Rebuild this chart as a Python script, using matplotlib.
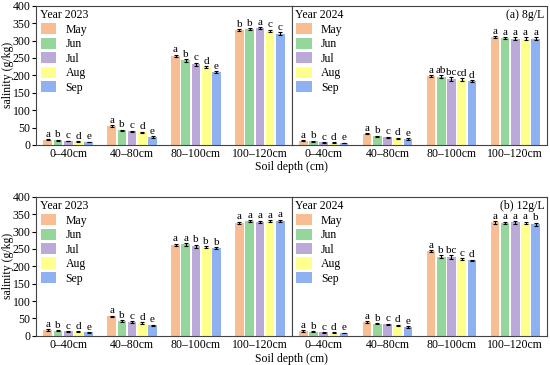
import matplotlib.pyplot as plt
import numpy as np

plt.rcParams['font.family'] = ['Liberation Serif', 'DejaVu Serif']

depths = ['0–40cm', '40–80cm', '80–100cm', '100–120cm']
months = ['May', 'Jun', 'Jul', 'Aug', 'Sep']
colors = ['#F9BD93', '#95D69B', '#BBAAD8', '#FFFF8C', '#8FB1F2']

# 8 g/L, rows = months, cols = depths
a_2023 = [[15, 54, 257, 330],
          [13, 42, 243, 333],
          [11, 39, 232, 335],
          [10, 36, 224, 328],
          [8, 23, 210, 320]]
a_2024 = [[12, 32, 197, 310],
          [10, 25, 196, 307],
          [7, 22, 190, 306],
          [6, 19, 188, 306],
          [5, 17, 184, 305]]
# 12 g/L
b_2023 = [[17, 56, 262, 325],
          [15, 43, 263, 330],
          [13, 40, 257, 328],
          [12, 37, 255, 330],
          [10, 30, 253, 330]]
b_2024 = [[14, 40, 243, 326],
          [12, 35, 228, 325],
          [10, 33, 226, 326],
          [9, 30, 220, 325],
          [8, 25, 217, 321]]

err = [[2, 2, 3, 3], [2, 2, 4, 3], [1, 2, 5, 3], [1, 2, 3, 3], [1, 2, 2, 4]]

a_2023_let = [list('aaab'), list('bbbb'), list('ccca'), list('dddc'), list('eeec')]
a_2024_let = [['a', 'a', 'a', 'a'], ['b', 'b', 'ab', 'a'], ['c', 'c', 'bc', 'a'],
              ['d', 'd', 'cd', 'a'], ['e', 'e', 'd', 'a']]
b_2023_let = [list('aaaa'), list('bbaa'), list('ccba'), list('ddba'), list('eeba')]
b_2024_let = [['a', 'a', 'a', 'a'], ['b', 'b', 'b', 'a'], ['c', 'c', 'bc', 'a'],
              ['d', 'd', 'c', 'a'], ['e', 'e', 'd', 'b']]


def draw(ax, vals, lets, year):
    x = np.arange(len(depths))
    step, w = 0.16, 0.135
    for i, m in enumerate(months):
        pos = x + (i - 2) * step
        ax.bar(pos, vals[i], w, color=colors[i], label=m,
               yerr=err[i], error_kw=dict(ecolor='black', elinewidth=0.8, capsize=1.5, capthick=0.8))
        for p, v, e, t in zip(pos, vals[i], err[i], lets[i]):
            ax.text(p, v + e + 1, t, ha='center', va='bottom', fontsize=8)
    ax.set_xlim(-0.5, 3.5)
    ax.set_ylim(0, 400)
    ax.set_xticks(x)
    ax.set_xticklabels(depths, fontsize=8.5)
    ax.tick_params(axis='x', length=0, pad=2)
    ax.legend(title='Year %d' % year, loc='upper left', frameon=False, fontsize=8.5,
              title_fontsize=8.5, handlelength=1.3, handleheight=1.1, labelspacing=0.15,
              borderaxespad=0.1, borderpad=0.2, handletextpad=0.8)
    for s in ax.spines.values():
        s.set_color('#444444')
        s.set_linewidth(0.8)


fig, axes = plt.subplots(2, 2, figsize=(5.5, 3.65), dpi=100, sharey=True)
fig.subplots_adjust(left=0.066, right=0.995, top=0.984, bottom=0.08, wspace=0, hspace=0.373)

draw(axes[0, 0], a_2023, a_2023_let, 2023)
draw(axes[0, 1], a_2024, a_2024_let, 2024)
draw(axes[1, 0], b_2023, b_2023_let, 2023)
draw(axes[1, 1], b_2024, b_2024_let, 2024)

for row, tag, ylab in zip(axes, ['(a) 8g/L', '(b) 12g/L'], [0.543, 0.017]):
    row[0].set_ylabel('salinity (g/kg)', fontsize=8.5)
    row[0].yaxis.set_label_coords(-0.088, 0.5)
    row[0].set_yticks(range(0, 401, 50))
    row[0].tick_params(axis='y', labelsize=8.5, length=3, pad=1)
    row[1].tick_params(axis='y', left=False, labelleft=False)
    row[1].text(0.99, 0.975, tag, transform=row[1].transAxes, ha='right', va='top', fontsize=8.5)
    xmid = row[1].get_position().x0
    fig.text(xmid, ylab, 'Soil depth (cm)', ha='center', va='center', fontsize=8.5)

plt.savefig('out.png', dpi=100)
